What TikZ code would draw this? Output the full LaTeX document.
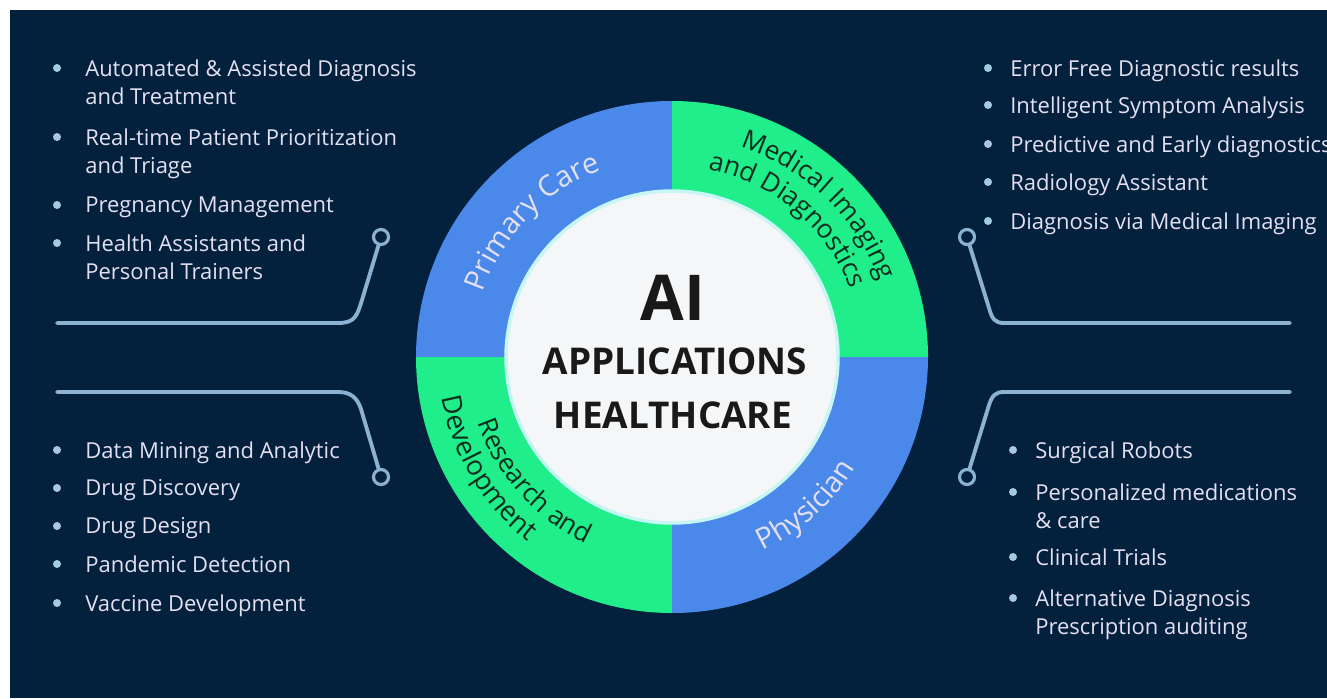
\documentclass[tikz,border=0pt]{standalone}
\usepackage{fontspec}
\setmainfont{Open Sans}
\usetikzlibrary{decorations.text}
\definecolor{navy}{HTML}{03213D}
\definecolor{ringblue}{HTML}{4A88EA}
\definecolor{ringgreen}{HTML}{1FEE8A}
\definecolor{paper}{HTML}{F5F6F7}
\definecolor{glow}{HTML}{C8F6F4}
\definecolor{lavender}{HTML}{E4E0F2}
\definecolor{wirecol}{HTML}{8CB2D2}
\definecolor{dotcol}{HTML}{A4CADF}
\definecolor{darkink}{HTML}{0C2E1E}

\begin{document}
\begin{tikzpicture}[x=0.02cm, y=0.02cm,
	item/.style={anchor=north west, inner sep=0pt, align=left, text=lavender, font=\fontsize{12.5}{16}\selectfont},
	dot/.style={circle, fill=dotcol, inner sep=0pt, minimum size=0.16cm},
	wire/.style={draw=wirecol, line width=2.2pt, line cap=round},
	pin/.style={circle, draw=wirecol, line width=1.8pt, fill=navy, inner sep=0pt, minimum size=0.3cm},
	bigtitle/.style={inner sep=0pt, text=black!90, font=\bfseries\fontsize{#1}{#1}\selectfont},
	arctext/.style={decorate, decoration={text along path, text align=center, text={#1}}}]
	\useasboundingbox (0,0) rectangle (1327,698);
	\fill[white] (0,0) rectangle (1327,698);
	\fill[navy] (10,0) rectangle (1327,688);

	% ring of four fields
	\coordinate (hub) at (672,341);
	\fill[ringblue] (hub) -- ++(90:256) arc (90:180:256) -- cycle;
	\fill[ringgreen] (hub) -- ++(0:256) arc (0:90:256) -- cycle;
	\fill[ringgreen] (hub) -- ++(180:256) arc (180:270:256) -- cycle;
	\fill[ringblue] (hub) -- ++(270:256) arc (270:360:256) -- cycle;
	\node[circle, fill=paper, draw=glow, line width=2pt, inner sep=0pt, minimum size=6.64cm] (core) at (hub) {};

	\path[arctext={|\fontsize{16.5}{16}\selectfont\color{lavender}|Primary Care}] (hub) ++(196:200) arc (196:76:200);
	\path[arctext={|\fontsize{15}{15}\selectfont\color{darkink}|Medical Imaging}] (hub) ++(106:221) arc (106:-14:221);
	\path[arctext={|\fontsize{15}{15}\selectfont\color{darkink}|and Diagnostics}] (hub) ++(110:191) arc (110:-10:191);
	\path[arctext={|\fontsize{15}{15}\selectfont\color{darkink}|Research and}] (hub) ++(162:205) arc (162:282:205);
	\path[arctext={|\fontsize{15.5}{15}\selectfont\color{darkink}|Development}] (hub) ++(151:234) arc (151:271:234);
	\path[arctext={|\fontsize{16.5}{16}\selectfont\color{lavender}|Physician}] (hub) ++(252:214) arc (252:372:214);

	\node[bigtitle=36] (ai) at (673,400) {AI};
	\node[bigtitle=21] (apps) at (675,337) {APPLICATIONS};
	\node[bigtitle=21] (care) at (673,283) {HEALTHCARE};

	% circuit wires
	\coordinate (tl-start) at (57,375);
	\node[pin] (tl-pin) at (381,461) {};
	\draw[wire] (tl-start) -- (338,375) .. controls (355,375) and (357,382) .. (362,398) -- (tl-pin);
	\coordinate (bl-start) at (57,306);
	\node[pin] (bl-pin) at (381,221) {};
	\draw[wire] (bl-start) -- (338,306) .. controls (350,306) and (357,301) .. (361,289) -- (bl-pin);
	\coordinate (tr-start) at (1290,375);
	\node[pin] (tr-pin) at (967,461) {};
	\draw[wire] (tr-start) -- (1004,375) .. controls (995,375) and (992,379) .. (989,390) -- (tr-pin);
	\coordinate (br-start) at (1290,306);
	\node[pin] (br-pin) at (967,221) {};
	\draw[wire] (br-start) -- (1004,306) .. controls (995,306) and (992,302) .. (989,293) -- (br-pin);

	% upper left list
	\node[item] (care1) at (85,639) {Automated \& Assisted Diagnosis\\and Treatment};
	\node[item] (care2) at (85,570) {Real-time Patient Prioritization\\and Triage};
	\node[item] (care3) at (85,502) {Pregnancy Management};
	\node[item] (care4) at (85,464) {Health Assistants and\\Personal Trainers};
	\node[dot] (care1-dot) at ([xshift=-0.56cm, yshift=-0.18cm] care1.north west) {};
	\node[dot] (care2-dot) at ([xshift=-0.56cm, yshift=-0.18cm] care2.north west) {};
	\node[dot] (care3-dot) at ([xshift=-0.56cm, yshift=-0.18cm] care3.north west) {};
	\node[dot] (care4-dot) at ([xshift=-0.56cm, yshift=-0.18cm] care4.north west) {};

	% lower left list
	\node[item] (rd1) at (85,257) {Data Mining and Analytic};
	\node[item] (rd2) at (85,219) {Drug Discovery};
	\node[item] (rd3) at (85,181) {Drug Design};
	\node[item] (rd4) at (85,143) {Pandemic Detection};
	\node[item] (rd5) at (85,104) {Vaccine Development};
	\node[dot] (rd1-dot) at ([xshift=-0.56cm, yshift=-0.18cm] rd1.north west) {};
	\node[dot] (rd2-dot) at ([xshift=-0.56cm, yshift=-0.18cm] rd2.north west) {};
	\node[dot] (rd3-dot) at ([xshift=-0.56cm, yshift=-0.18cm] rd3.north west) {};
	\node[dot] (rd4-dot) at ([xshift=-0.56cm, yshift=-0.18cm] rd4.north west) {};
	\node[dot] (rd5-dot) at ([xshift=-0.56cm, yshift=-0.18cm] rd5.north west) {};

	% upper right list
	\node[item] (img1) at (1010,639) {Error Free Diagnostic results};
	\node[item] (img2) at (1010,602) {Intelligent Symptom Analysis};
	\node[item] (img3) at (1010,563) {Predictive and Early diagnostics};
	\node[item] (img4) at (1010,525) {Radiology Assistant};
	\node[item] (img5) at (1010,486) {Diagnosis via Medical Imaging};
	\node[dot] (img1-dot) at ([xshift=-0.44cm, yshift=-0.18cm] img1.north west) {};
	\node[dot] (img2-dot) at ([xshift=-0.44cm, yshift=-0.18cm] img2.north west) {};
	\node[dot] (img3-dot) at ([xshift=-0.44cm, yshift=-0.18cm] img3.north west) {};
	\node[dot] (img4-dot) at ([xshift=-0.44cm, yshift=-0.18cm] img4.north west) {};
	\node[dot] (img5-dot) at ([xshift=-0.44cm, yshift=-0.18cm] img5.north west) {};

	% lower right list
	\node[item] (doc1) at (1035,257) {Surgical Robots};
	\node[item] (doc2) at (1035,215) {Personalized medications\\\& care};
	\node[item] (doc3) at (1035,150) {Clinical Trials};
	\node[item] (doc4) at (1035,109) {Alternative Diagnosis\\Prescription auditing};
	\node[dot] (doc1-dot) at ([xshift=-0.44cm, yshift=-0.18cm] doc1.north west) {};
	\node[dot] (doc2-dot) at ([xshift=-0.44cm, yshift=-0.18cm] doc2.north west) {};
	\node[dot] (doc3-dot) at ([xshift=-0.44cm, yshift=-0.18cm] doc3.north west) {};
	\node[dot] (doc4-dot) at ([xshift=-0.44cm, yshift=-0.18cm] doc4.north west) {};
\end{tikzpicture}
\end{document}
